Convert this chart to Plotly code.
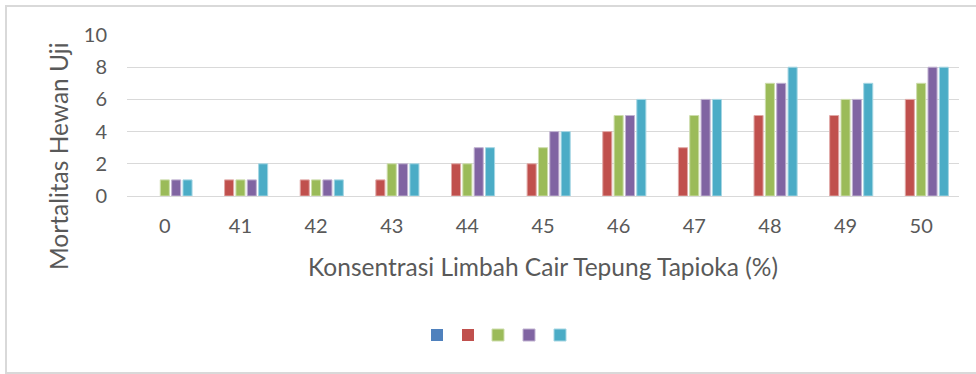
import plotly.graph_objects as go

# Concentrations of tapioca-flour wastewater (%)
konsentrasi = ["0", "41", "42", "43", "44", "45", "46", "47", "48", "49", "50"]

# Mortality counts per replicate series
seri_1 = [0, 0, 0, 0, 0, 0, 0, 0, 0, 0, 0]
seri_2 = [0, 1, 1, 1, 2, 2, 4, 3, 5, 5, 6]
seri_3 = [1, 1, 1, 2, 2, 3, 5, 5, 7, 6, 7]
seri_4 = [1, 1, 1, 2, 3, 4, 5, 6, 7, 6, 8]
seri_5 = [1, 2, 1, 2, 3, 4, 6, 6, 8, 7, 8]

series = [seri_1, seri_2, seri_3, seri_4, seri_5]
colors = ["#4F81BD", "#C0504D", "#9BBB59", "#8064A2", "#4BACC6"]
edges = ["#A7C0DE", "#E0A8A6", "#CDDDAC", "#C0B2D1", "#A5D6E3"]

FONT = "Lato"
GREY = "#595959"

# plot area in pixels (left/right/top/bottom)
L, R, T, B = 127, 959, 35, 196
PW, PH = R - L, B - T

# legend swatch centres (px) and row centre (px)
legend_x = [437, 468, 498, 529, 560]
legend_y = 335

fig = go.Figure()
layout_legends = {}
for i, (vals, col, edge) in enumerate(zip(series, colors, edges)):
    key = "legend" if i == 0 else f"legend{i + 1}"
    fig.add_trace(go.Bar(
        x=konsentrasi, y=vals, name="", legend=key,
        marker=dict(color=col,
                    line=dict(color=edge,
                              width=[1 if v > 0 else 0 for v in vals])),
    ))
    layout_legends[key] = dict(
        x=(legend_x[i] - 20 - L) / PW, xanchor="left",
        y=(B - legend_y) / PH, yanchor="middle",
        bgcolor="rgba(0,0,0,0)", borderwidth=0,
        font=dict(size=12), itemclick=False, itemdoubleclick=False,
        entrywidth=1,
    )

# Light outer frame around the whole chart
fig.add_shape(type="rect", xref="paper", yref="paper",
              x0=(6 - L) / PW, x1=(990 - L) / PW,
              y0=(B - 373) / PH, y1=(B - 6) / PH,
              line=dict(color="#D9D9D9", width=2), fillcolor="rgba(0,0,0,0)",
              layer="below")

# Vertical axis title, placed a little below the plot-area centre
fig.add_annotation(
    text="Mortalitas Hewan Uji", textangle=-90, showarrow=False,
    xref="paper", yref="paper",
    x=(58 - L) / PW, y=(B - 156) / PH, xanchor="center", yanchor="middle",
    font=dict(family=FONT, size=24.5, color=GREY),
)

fig.update_layout(
    width=976, height=374,
    margin=dict(l=L, r=976 - R, t=T, b=374 - B),
    paper_bgcolor="white", plot_bgcolor="white",
    barmode="group", bargap=0.25, bargroupgap=0.2,
    font=dict(family=FONT, color=GREY, size=20),
    showlegend=True,
    xaxis=dict(
        type="category", showgrid=False, showline=True,
        linecolor="#D9D9D9", linewidth=1, ticks="",
        tickfont=dict(size=20, color=GREY), ticklabelstandoff=12,
        title=dict(text="Konsentrasi Limbah Cair Tepung Tapioka (%)",
                   font=dict(size=24.5, color=GREY), standoff=22),
    ),
    yaxis=dict(
        range=[0, 10], dtick=2, showgrid=True, gridcolor="#D9D9D9",
        gridwidth=1, zeroline=False, showline=False, ticks="",
        tickfont=dict(size=20, color=GREY), ticklabelstandoff=19,
    ),
    **layout_legends,
)

fig.write_html("out.html")
